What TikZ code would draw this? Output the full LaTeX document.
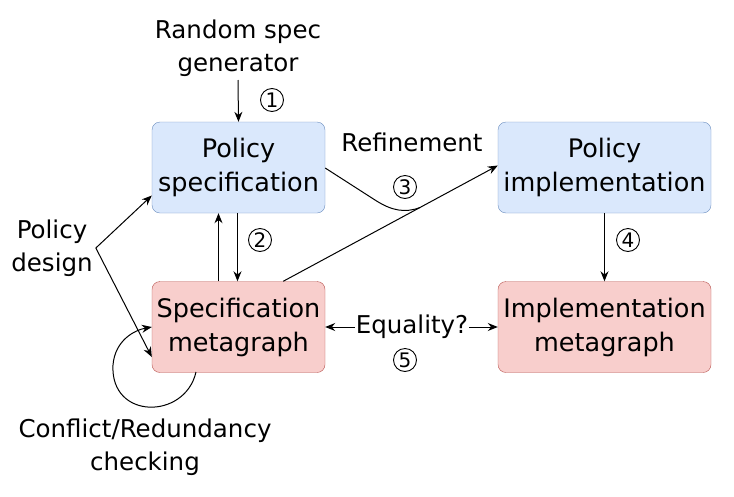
\documentclass[tikz,border=0pt]{standalone}
\usepackage{fontspec}
\setmainfont{DejaVu Sans}
\usetikzlibrary{arrows.meta}
\begin{document}
\begin{tikzpicture}[x=1pt,y=-1pt,
  box/.style={draw, rounded corners=8pt, minimum width=173pt, minimum height=91pt, align=center, font=\fontsize{25.5}{34}\selectfont, inner sep=0pt},
  blue/.style={box, fill={rgb,255:red,218;green,232;blue,252}, draw={rgb,255:red,108;green,142;blue,191}},
  red/.style={box, fill={rgb,255:red,248;green,206;blue,204}, draw={rgb,255:red,184;green,84;blue,80}},
  lab/.style={align=center, font=\fontsize{24.5}{33}\selectfont, inner sep=1pt},
  num/.style={circle, draw, line width=0.9pt, minimum size=23pt, inner sep=0pt, font=\fontsize{20}{20}\selectfont},
  arr/.style={-{Stealth[length=10pt,width=8pt]}, line width=1pt}]
\useasboundingbox (0,0) rectangle (734,496);
\node[blue] (ps) at (238.5,167.5) {Policy\\specification};
\node[blue, minimum width=213pt] (pi) at (604.5,167.5) {Policy\\implementation};
\node[red] (sm) at (238.5,327) {Specification\\metagraph};
\node[red, minimum width=213pt] (im) at (604.5,327) {Implementation\\metagraph};
\node[lab] (rsg) at (238,48) {Random spec\\generator};
\node[lab] (pd) at (52,248) {Policy\\design};
\node[lab] (ref) at (412,142) {Refinement};
\node[lab] (eq) at (412,327) {Equality?};
\node[lab] (crc) at (145,447) {Conflict/Redundancy\\checking};
\node[num] (c1) at (272,100) {1};
\node[num] (c2) at (260,240) {2};
\node[num] (c3) at (405,187) {3};
\node[num] (c4) at (628,240) {4};
\node[num] (c5) at (405,360) {5};
\coordinate (m) at (420,207.6);
\draw[arr] (238,80) -- (ps.north);
\draw[arr] ([xshift=-1pt]ps.south) -- ([xshift=-1pt]sm.north);
\draw[arr] ([xshift=-20pt]sm.north) -- ([xshift=-20pt]ps.south);
\draw[arr] (pi.south) -- (im.south |- im.north);
\draw[line width=1pt] (ps.east |- 0,168) -- (375,200) .. controls (392,211) and (405,213) .. (m);
\draw[arr] ([xshift=-42pt]sm.north east) -- ([yshift=2pt]pi.west);
\draw[arr] (eq) -- (sm.east);
\draw[arr] (eq) -- (im.west);
\draw[arr] ([xshift=2pt]pd.east) -- ([yshift=-28pt]ps.west);
\draw[arr] ([xshift=2pt]pd.east) -- ([yshift=-30pt]sm.west);
\draw[arr] (196,372) .. controls (185,420) and (110,420) .. (113,365) .. controls (115,340) and (135,330) .. (sm.west);
\end{tikzpicture}
\end{document}
